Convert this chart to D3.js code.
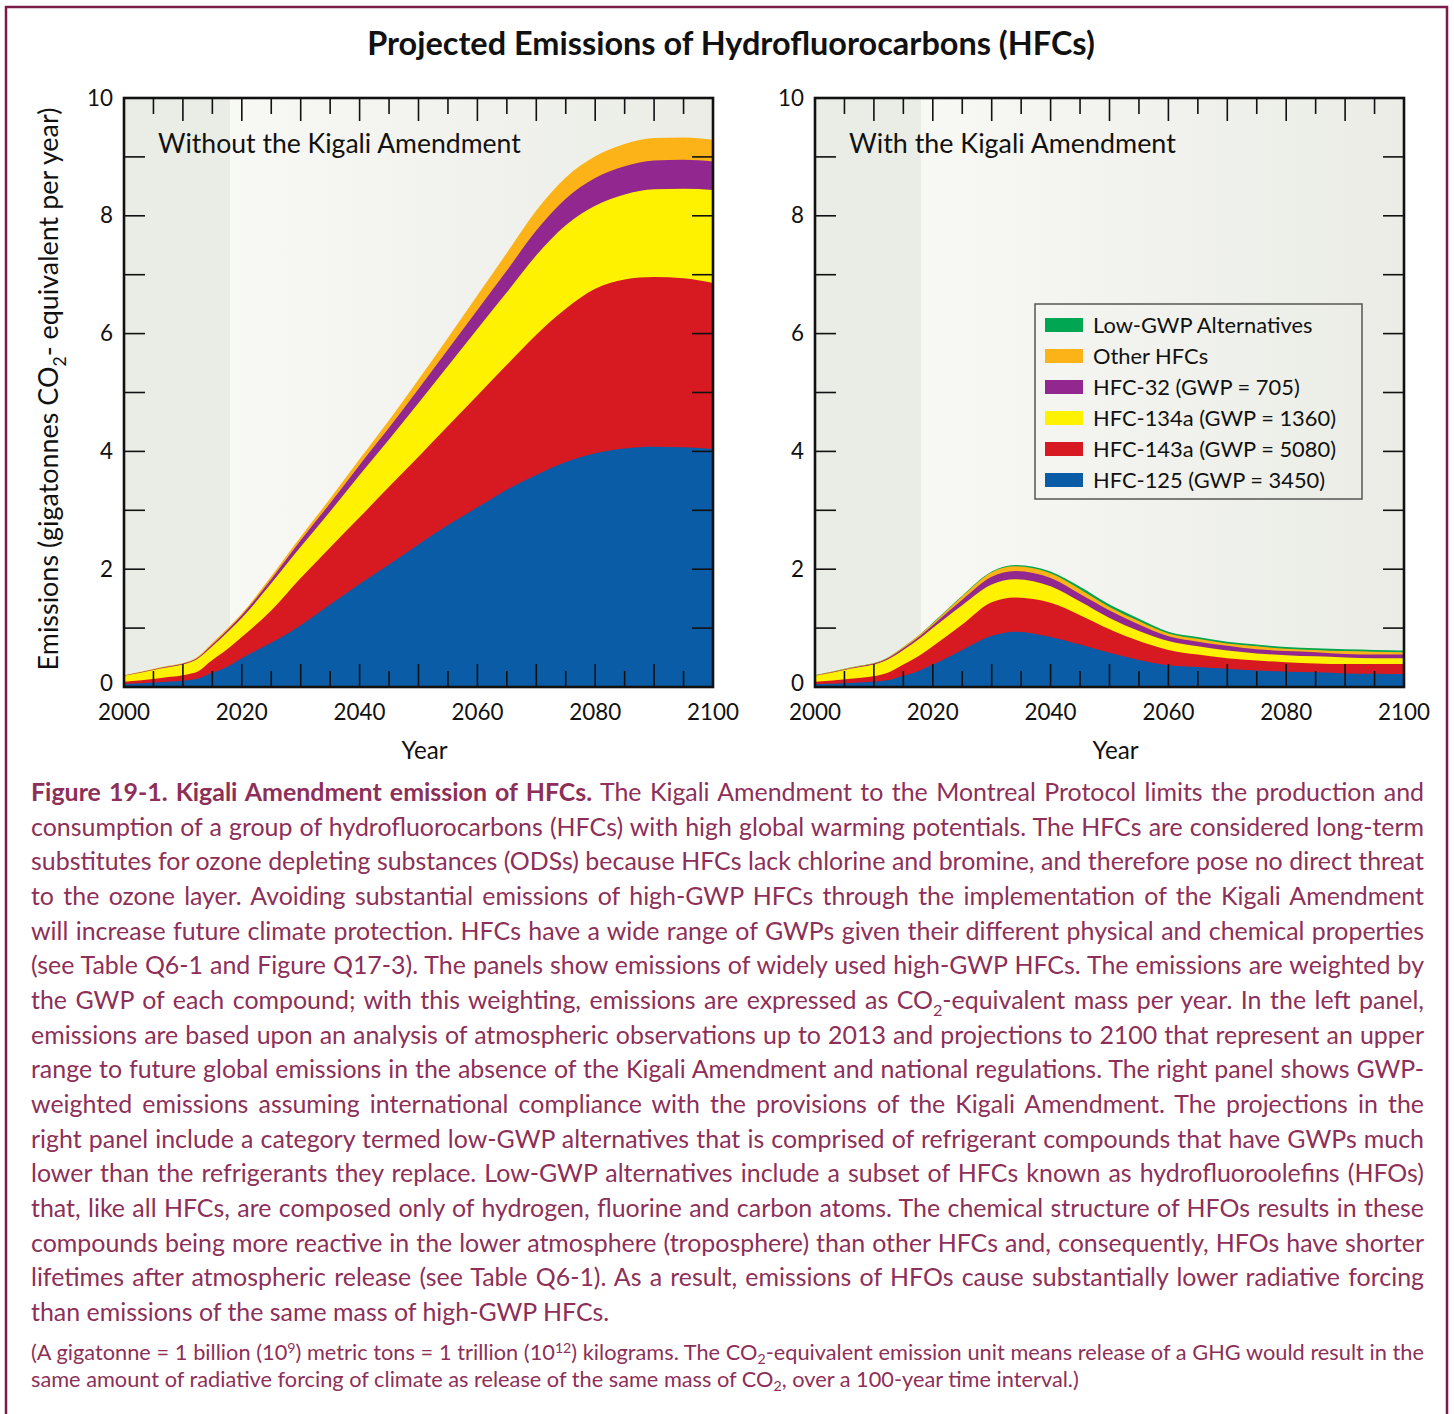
<!DOCTYPE html>
<html><head><meta charset="utf-8">
<script src="https://cdn.jsdelivr.net/npm/d3@7"></script>
<style>
body{margin:0;background:#fff;}
svg{display:block;}
text{font-family:Lato,"Open Sans",sans-serif;}
</style>
</head><body>
<svg id="c" width="1454" height="1414"></svg>
<script>
// ---------------- DATA ----------------
const seriesKeys   = ["hfc125","hfc143a","hfc134a","hfc32","other","lowgwp"];
const seriesLabels = ["HFC-125 (GWP = 3450)","HFC-143a (GWP = 5080)","HFC-134a (GWP = 1360)","HFC-32 (GWP = 705)","Other HFCs","Low-GWP Alternatives"];
const seriesColors = ["#0a5ca6","#d71a21","#fff200","#92278f","#fbb317","#00a651"];

const yearsLeft   = [2000,2006,2012,2015,2018,2020,2025,2030,2035,2040,2045,2050,2055,2060,2065,2070,2075,2080,2085,2090,2095,2100];
const hfc125Left  = [0.05,0.08,0.13,0.24,0.37,0.49,0.75,1.05,1.40,1.75,2.08,2.42,2.75,3.05,3.35,3.60,3.82,3.97,4.05,4.08,4.07,4.04];
const hfc143aLeft = [0.04,0.07,0.11,0.22,0.31,0.36,0.55,0.80,0.97,1.13,1.32,1.49,1.68,1.90,2.12,2.38,2.60,2.79,2.87,2.88,2.87,2.82];
const hfc134aLeft = [0.10,0.16,0.21,0.23,0.29,0.32,0.46,0.53,0.61,0.72,0.80,0.91,1.02,1.13,1.23,1.35,1.42,1.41,1.44,1.49,1.52,1.58];
const hfc32Left   = [0.005,0.01,0.015,0.03,0.04,0.05,0.07,0.11,0.14,0.17,0.20,0.24,0.28,0.32,0.37,0.42,0.45,0.47,0.48,0.49,0.49,0.48];
const otherLeft   = [0.005,0.01,0.015,0.03,0.03,0.03,0.05,0.06,0.08,0.10,0.13,0.16,0.20,0.25,0.30,0.34,0.36,0.37,0.38,0.38,0.38,0.37];
const lowgwpLeft  = [0,0,0,0,0,0,0,0,0,0,0,0,0,0,0,0,0,0,0,0,0,0];

const yearsRight   = [2000,2006,2012,2015,2018,2020,2025,2030,2034,2040,2045,2050,2055,2060,2065,2070,2075,2080,2085,2090,2095,2100];
const hfc125Right  = [0.05,0.07,0.11,0.19,0.29,0.38,0.63,0.87,0.94,0.85,0.72,0.58,0.46,0.37,0.34,0.31,0.28,0.26,0.25,0.23,0.225,0.22];
const hfc143aRight = [0.04,0.07,0.12,0.19,0.26,0.31,0.43,0.57,0.58,0.58,0.50,0.40,0.32,0.26,0.21,0.18,0.17,0.16,0.15,0.16,0.165,0.17];
const hfc134aRight = [0.10,0.17,0.22,0.25,0.29,0.31,0.33,0.30,0.31,0.28,0.23,0.19,0.17,0.15,0.14,0.13,0.12,0.12,0.12,0.11,0.10,0.10];
const hfc32Right   = [0.005,0.01,0.02,0.03,0.04,0.05,0.09,0.13,0.14,0.14,0.13,0.13,0.11,0.08,0.08,0.08,0.07,0.07,0.07,0.06,0.06,0.06];
const otherRight   = [0.005,0.01,0.01,0.02,0.03,0.03,0.06,0.08,0.08,0.08,0.08,0.06,0.06,0.05,0.05,0.04,0.05,0.04,0.04,0.05,0.05,0.04];
const lowgwpRight  = [0,0,0,0,0,0.01,0.01,0.01,0.02,0.03,0.04,0.04,0.04,0.03,0.03,0.03,0.03,0.03,0.03,0.03,0.03,0.03];

const yTicks = [0,2,4,6,8,10];
const xTicks = [2000,2020,2040,2060,2080,2100];

const titleText = "Projected Emissions of Hydrofluorocarbons (HFCs)";
const panelTitles = ["Without the Kigali Amendment","With the Kigali Amendment"];
const yAxisLabel = "Emissions (gigatonnes CO_{2}- equivalent per year)";
const xAxisLabel = "Year";

const captionLines = [
 "**Figure 19-1. Kigali Amendment emission of HFCs.** The Kigali Amendment to the Montreal Protocol limits the production and",
 "consumption of a group of hydrofluorocarbons (HFCs) with high global warming potentials. The HFCs are considered long-term",
 "substitutes for ozone depleting substances (ODSs) because HFCs lack chlorine and bromine, and therefore pose no direct threat",
 "to the ozone layer. Avoiding substantial emissions of high-GWP HFCs through the implementation of the Kigali Amendment",
 "will increase future climate protection. HFCs have a wide range of GWPs given their different physical and chemical properties",
 "(see Table Q6-1 and Figure Q17-3). The panels show emissions of widely used high-GWP HFCs. The emissions are weighted by",
 "the GWP of each compound; with this weighting, emissions are expressed as CO_{2}-equivalent mass per year. In the left panel,",
 "emissions are based upon an analysis of atmospheric observations up to 2013 and projections to 2100 that represent an upper",
 "range to future global emissions in the absence of the Kigali Amendment and national regulations. The right panel shows GWP-",
 "weighted emissions assuming international compliance with the provisions of the Kigali Amendment. The projections in the",
 "right panel include a category termed low-GWP alternatives that is comprised of refrigerant compounds that have GWPs much",
 "lower than the refrigerants they replace. Low-GWP alternatives include a subset of HFCs known as hydrofluoroolefins (HFOs)",
 "that, like all HFCs, are composed only of hydrogen, fluorine and carbon atoms. The chemical structure of HFOs results in these",
 "compounds being more reactive in the lower atmosphere (troposphere) than other HFCs and, consequently, HFOs have shorter",
 "lifetimes after atmospheric release (see Table Q6-1). As a result, emissions of HFOs cause substantially lower radiative forcing",
 "than emissions of the same mass of high-GWP HFCs."
];
const footnoteLines = [
 "(A gigatonne = 1 billion (10^{9}) metric tons = 1 trillion (10^{12}) kilograms. The CO_{2}-equivalent emission unit means release of a GHG would result in the",
 "same amount of radiative forcing of climate as release of the same mass of CO_{2}, over a 100-year time interval.)"
];

// ---------------- HELPERS ----------------
const svg = d3.select("#c");

function addRich(t, str, fs, subShift, supShift){
  const sb = subShift === undefined ? 0.28 : subShift;
  const sp = supShift === undefined ? 0.38 : supShift;
  const re = /(\*\*[^*]+\*\*|_\{[^}]+\}|\^\{[^}]+\})/g;
  const parts = str.split(re).filter(s => s && s.length);
  let pending = 0;
  parts.forEach(p => {
    let ts;
    if (p.startsWith("**")) {
      ts = t.append("tspan").attr("font-weight","bold").text(p.slice(2,-2));
      if (pending) { ts.attr("dy", pending); pending = 0; }
    } else if (p.startsWith("_{")) {
      ts = t.append("tspan").attr("font-size", fs*0.65).attr("dy", fs*sb + pending).text(p.slice(2,-1));
      pending = -fs*sb;
    } else if (p.startsWith("^{")) {
      ts = t.append("tspan").attr("font-size", fs*0.65).attr("dy", -fs*sp + pending).text(p.slice(2,-1));
      pending = fs*sp;
    } else {
      ts = t.append("tspan").text(p);
      if (pending) { ts.attr("dy", pending); pending = 0; }
    }
  });
  return t;
}
function fitWidth(sel, target){
  const fs = parseFloat(sel.attr("font-size"));
  const w = sel.node().getComputedTextLength();
  const nf = fs*target/w;
  sel.attr("font-size", nf);
  return nf;
}
function measure(str, fs, weight){
  const t = svg.append("text").attr("font-size", fs).attr("font-weight", weight||"normal").text(str);
  const w = t.node().getComputedTextLength(); t.remove(); return w;
}

// ---------------- FRAME ----------------
svg.append("rect").attr("x",6).attr("y",7).attr("width",1441).attr("height",1460)
  .attr("fill","none").attr("stroke","#7b1b47").attr("stroke-width",2.5);

// Title
const title = svg.append("text").attr("x",731).attr("y",55).attr("text-anchor","middle")
  .attr("font-size",29).attr("font-weight","bold").attr("fill","#111").text(titleText);
fitWidth(title, 728);

// gradient
const defs = svg.append("defs");
const grad = defs.append("linearGradient").attr("id","bgGrad").attr("x1",0).attr("x2",1).attr("y1",0).attr("y2",0);
grad.append("stop").attr("offset","0%").attr("stop-color","#f8f8f5");
grad.append("stop").attr("offset","100%").attr("stop-color","#eaece5");

// tick label font size fitted to "2000" ≈ 53px
const tickFs = 23 * 52 / measure("2000", 23);

function panel(cfg){
  const x = d3.scaleLinear().domain([2000,2100]).range([cfg.x0, cfg.x1]);
  const y = d3.scaleLinear().domain([0,10]).range([687, 98]);
  const g = svg.append("g");
  g.append("rect").attr("x",x(2000)).attr("y",y(10)).attr("width",x(2018)-x(2000)).attr("height",y(0)-y(10)).attr("fill","#eaede5");
  g.append("rect").attr("x",x(2018)).attr("y",y(10)).attr("width",x(2100)-x(2018)).attr("height",y(0)-y(10)).attr("fill","url(#bgGrad)");

  const data = cfg.years.map((yr,i) => {
    const o = {year: yr};
    seriesKeys.forEach(k => o[k] = cfg.values[k][i]);
    return o;
  });
  const keys = seriesKeys.filter(k => d3.max(cfg.values[k]) > 0);
  const stacked = d3.stack().keys(keys)(data);
  const area = d3.area().x(d => x(d.data.year)).y0(y(0)).y1(d => y(d[1])).curve(d3.curveMonotoneX);
  for (let i = stacked.length-1; i >= 0; i--) {
    g.append("path").datum(stacked[i]).attr("d", area)
      .attr("fill", seriesColors[seriesKeys.indexOf(stacked[i].key)]);
  }

  // ticks
  const tk = g.append("g").attr("stroke","#111").attr("stroke-width",1.6);
  d3.range(1,10).forEach(v => {
    tk.append("line").attr("x1",x(2000)).attr("x2",x(2000)+21).attr("y1",y(v)).attr("y2",y(v));
    tk.append("line").attr("x1",x(2100)-21).attr("x2",x(2100)).attr("y1",y(v)).attr("y2",y(v));
  });
  d3.range(2005,2100,5).forEach(yr => {
    const len = yr % 10 === 0 ? 23 : 16;
    tk.append("line").attr("x1",x(yr)).attr("x2",x(yr)).attr("y1",y(10)).attr("y2",y(10)+len);
    tk.append("line").attr("x1",x(yr)).attr("x2",x(yr)).attr("y1",y(0)).attr("y2",y(0)-len);
  });
  g.append("rect").attr("x",x(2000)).attr("y",y(10)).attr("width",x(2100)-x(2000)).attr("height",y(0)-y(10))
    .attr("fill","none").attr("stroke","#111").attr("stroke-width",2.6);

  // tick labels
  yTicks.forEach(v => {
    g.append("text").attr("x",x(2000)-11).attr("y",y(v) - (v===0 ? 4 : 0)).attr("dy","0.34em").attr("text-anchor","end")
      .attr("font-size",tickFs).attr("fill","#111").text(v);
  });
  xTicks.forEach(v => {
    g.append("text").attr("x",x(v)).attr("y",720).attr("text-anchor","middle")
      .attr("font-size",tickFs).attr("fill","#111").text(v);
  });
  g.append("text").attr("x",(x(2000)+x(2100))/2+6).attr("y",759).attr("text-anchor","middle")
    .attr("font-size",tickFs*1.08).attr("fill","#111").text(xAxisLabel);

  const pt = g.append("text").attr("x",x(2000)+34).attr("y",153).attr("font-size",24).attr("fill","#111").text(cfg.title);
  fitWidth(pt, cfg.titleW);
  return {x,y,g};
}

const L = panel({x0:124, x1:713, years: yearsLeft, title: panelTitles[0], titleW: 363,
  values:{hfc125:hfc125Left,hfc143a:hfc143aLeft,hfc134a:hfc134aLeft,hfc32:hfc32Left,other:otherLeft,lowgwp:lowgwpLeft}});
const R = panel({x0:815, x1:1404, years: yearsRight, title: panelTitles[1], titleW: 327,
  values:{hfc125:hfc125Right,hfc143a:hfc143aRight,hfc134a:hfc134aRight,hfc32:hfc32Right,other:otherRight,lowgwp:lowgwpRight}});

// Y axis label
const ylab = svg.append("text").attr("transform","translate(58,389) rotate(-90)").attr("text-anchor","middle")
  .attr("font-size",23).attr("fill","#111");
addRich(ylab, yAxisLabel, 23);
{
  const w = ylab.node().getComputedTextLength();
  const nf = 23*563/w;
  ylab.selectAll("tspan").remove();
  ylab.attr("font-size", nf);
  addRich(ylab, yAxisLabel, nf);
}

// Legend
const lg = svg.append("g");
lg.append("rect").attr("x",1035).attr("y",304).attr("width",327).attr("height",195)
  .attr("fill","none").attr("stroke","#555").attr("stroke-width",1.5);
const legendOrder = seriesKeys.slice().reverse();
let legFs = 22 * 243 / measure("HFC-143a (GWP = 5080)", 22);
legendOrder.forEach((k,i) => {
  const idx = seriesKeys.indexOf(k);
  const cy = 325 + i*31;
  lg.append("rect").attr("x",1045).attr("y",cy-7).attr("width",38).attr("height",14).attr("fill",seriesColors[idx]);
  lg.append("text").attr("x",1093).attr("y",cy).attr("dy","0.36em").attr("font-size",legFs).attr("fill","#111").text(seriesLabels[idx]);
});

// Caption
const capColor = "#8d2f58";
const capX = 31, capW = 1393;
function drawParagraph(lines, y0, lh, fsInit, justifyCount, sb, sp){
  let fs = fsInit;
  const tmp = svg.append("g");
  let maxW = 0;
  lines.slice(0, justifyCount).forEach(s => {
    const t = tmp.append("text").attr("font-size",fs);
    addRich(t, s, fs, sb, sp);
    maxW = Math.max(maxW, t.node().getComputedTextLength());
  });
  tmp.remove();
  fs = fs * (capW - 2) / maxW;
  lines.forEach((s,i) => {
    const t = svg.append("text").attr("x",capX).attr("y",y0 + i*lh).attr("font-size",fs).attr("fill",capColor);
    addRich(t, s, fs, sb, sp);
    if (i < justifyCount) {
      const w = t.node().getComputedTextLength();
      const plain = s.replace(/\*\*/g,"").replace(/[_^]\{([^}]+)\}/g,"$1");
      const n = (plain.match(/ /g)||[]).length;
      if (n > 0) t.style("word-spacing", ((capW - w)/n) + "px");
    }
  });
  return fs;
}
drawParagraph(captionLines, 801, 34.67, 24, 15);
drawParagraph(footnoteLines, 1360, 27, 19, 1, 0.18, 0.34);
</script>
</body></html>
